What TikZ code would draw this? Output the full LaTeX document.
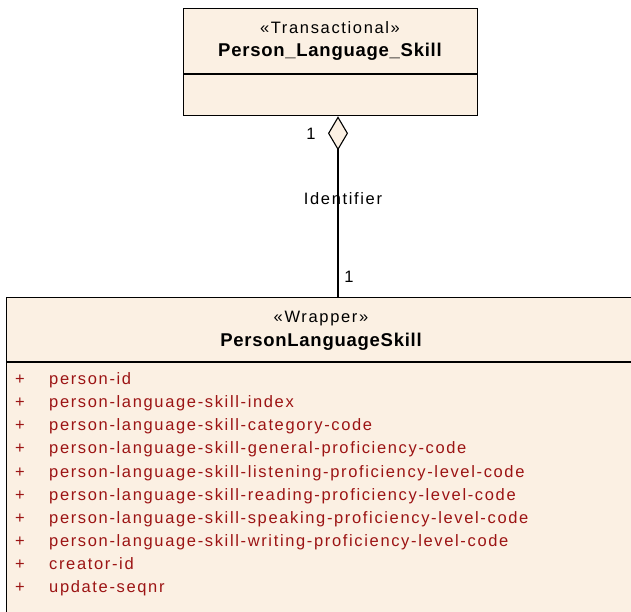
\documentclass[tikz,border=0pt]{standalone}
\usepackage{fontspec}
\setmainfont{Liberation Sans}[LetterSpace=10,Ligatures=NoCommon]
\newfontfamily\bldfont{Liberation Sans}[LetterSpace=4,Ligatures=NoCommon]
\usetikzlibrary{arrows.meta}
\definecolor{umlfill}{HTML}{FBF0E3}
\definecolor{attrred}{HTML}{9C1414}
\begin{document}
\begin{tikzpicture}[x=1pt,y=-1pt,
  box/.style={draw=black, line width=1.3pt, fill=umlfill, rectangle, inner sep=0pt, anchor=north west},
  stereo/.style={inner sep=0pt, font=\fontsize{16.5}{19}\selectfont},
  cname/.style={inner sep=0pt, font=\bldfont\bfseries\fontsize{18.5}{21}\selectfont},
  attr/.style={inner sep=0pt, text=attrred, font=\fontsize{16.5}{19}\selectfont, anchor=mid west},
  lbl/.style={inner sep=0pt, font=\fontsize{16.5}{19}\selectfont},
  conn/.style={draw=black, line width=1.1pt}]
\useasboundingbox (0,0) rectangle (631,611);
\clip (0,0) rectangle (631,611);
% top class
\node[box, minimum width=294pt, minimum height=107pt] (tr) at (183,8) {};
\coordinate (d1) at (0,74);
\draw[line width=1.3pt] (tr.west |- d1) -- (tr.east |- d1);
\node[stereo] (trs) at (330,28) {«Transactional»};
\node[cname] (trn) at (330,52) {Person\_Language\_Skill};
% bottom class
\node[box, minimum width=632pt, minimum height=400pt] (pl) at (6,297) {};
\coordinate (d2) at (0,362);
\draw[line width=1.3pt] (pl.west |- d2) -- (pl.east |- d2);
\node[stereo] (pls) at (321,319) {«Wrapper»};
\node[cname] (pln) at (321,342) {PersonLanguageSkill};
\foreach \t [count=\i from 0] in {person-id,
  person-language-skill-index,
  person-language-skill-category-code,
  person-language-skill-general-proficiency-code,
  person-language-skill-listening-proficiency-level-code,
  person-language-skill-reading-proficiency-level-code,
  person-language-skill-speaking-proficiency-level-code,
  person-language-skill-writing-proficiency-level-code,
  creator-id,
  update-seqnr}{
  \node[attr] (a\i) at (49,{382+23.1*\i}) {\t};
  \node[attr] (v\i) at (15,{382+23.1*\i}) {+};
}
% association
\coordinate (cx) at (338,0);
\draw[conn, {Diamond[length=34pt,width=20pt,fill=umlfill,line width=1.1pt]}-] (tr.south -| cx) -- (pl.north -| cx);
\node[lbl] (m1) at (311,134) {1};
\node[lbl] (rn) at (343,199) {Identifier};
\node[lbl] (m2) at (349,277) {1};
\end{tikzpicture}
\end{document}
